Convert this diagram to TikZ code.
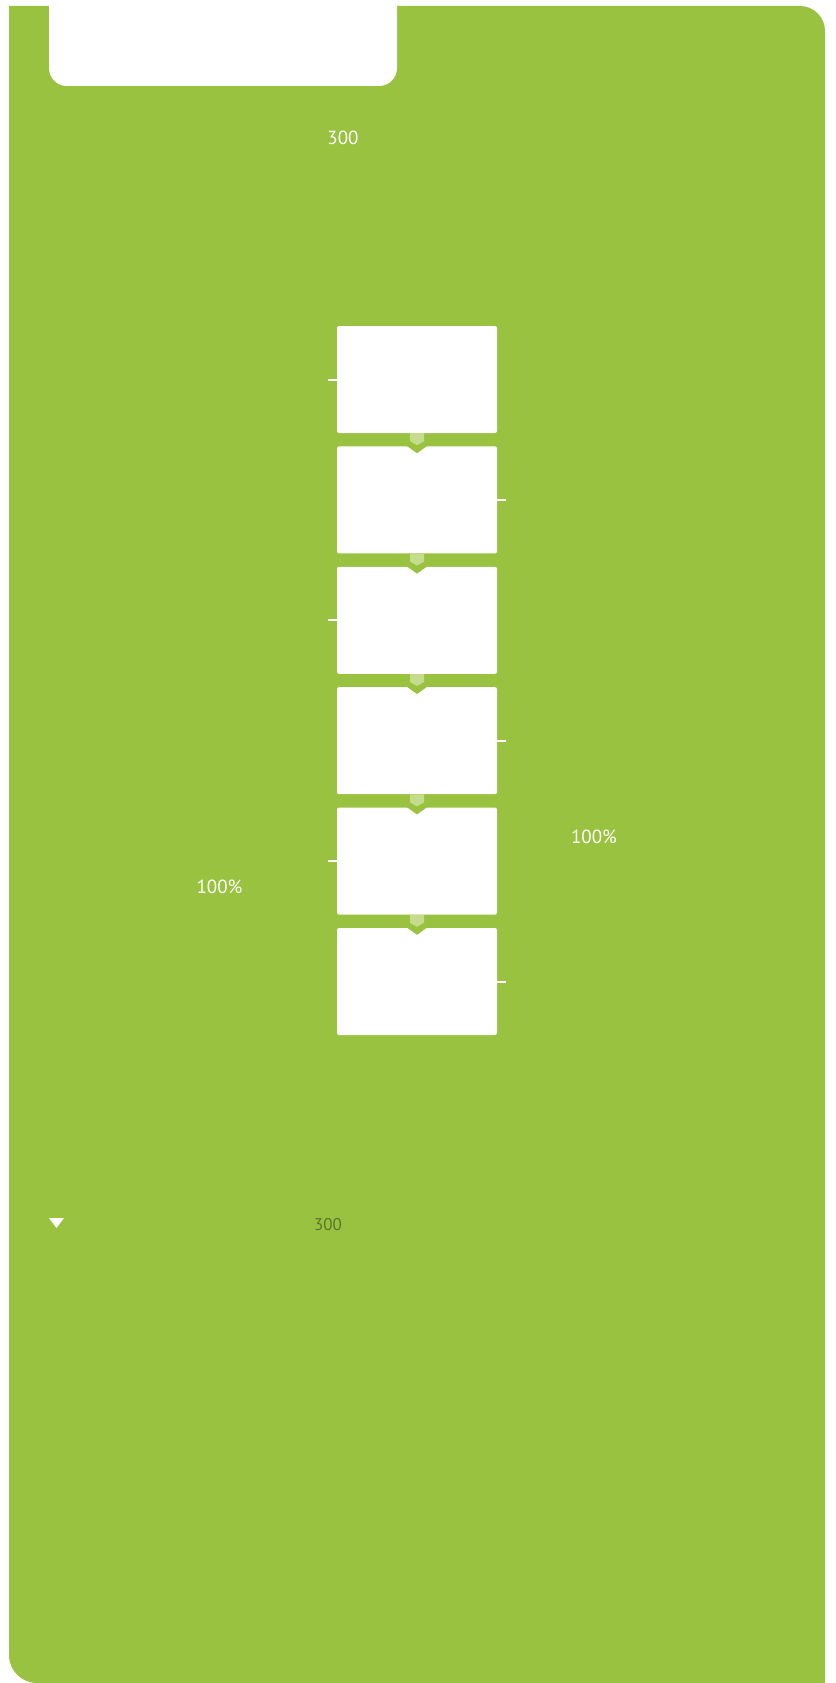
\documentclass[tikz,border=0pt]{standalone}
\usepackage{fontspec}
\setmainfont{PT Sans}
\usetikzlibrary{positioning}
\definecolor{bggreen}{HTML}{99C241}
\definecolor{arrowgreen}{HTML}{C4DC8C}
\definecolor{darkolive}{HTML}{5C7628}
\begin{document}
\begin{tikzpicture}[x=1pt, y=-1pt,
    whitebox/.style={fill=white, rounded corners=2pt, minimum width=160pt, minimum height=107pt, inner sep=0pt},
    tick/.style={draw=white, line width=2pt},
    flowarrow/.style={fill=arrowgreen},
    notch/.style={fill=bggreen},
    label/.style={text=white, font=\fontsize{19}{19}\selectfont, inner sep=0pt},
    node distance=13pt]

    \useasboundingbox (0,0) rectangle (835,1683);
    \fill[white] (0,0) rectangle (835,1683);

    \fill[bggreen] (9,6) -- (800,6) arc[start angle=-90, end angle=0, radius=25]
                   -- (825,1683) -- (37,1683) arc[start angle=90, end angle=180, radius=28]
                   -- cycle;

    \fill[white, rounded corners=18pt] (49,-30) -- (49,86) -- (397,86) -- (397,-30) -- cycle;

    \node[label] (topcount) at (343,138) {300};

    \node[whitebox] (box1) at (417,379.5) {};
    \node[whitebox, below=of box1] (box2) {};
    \node[whitebox, below=of box2] (box3) {};
    \node[whitebox, below=of box3] (box4) {};
    \node[whitebox, below=of box4] (box5) {};
    \node[whitebox, below=of box5] (box6) {};

    \fill[notch, shift={(box2.north)}] (-10.5,-0.5) -- (0,7) -- (10.5,-0.5) -- cycle;
    \fill[notch, shift={(box3.north)}] (-10.5,-0.5) -- (0,7) -- (10.5,-0.5) -- cycle;
    \fill[notch, shift={(box4.north)}] (-10.5,-0.5) -- (0,7) -- (10.5,-0.5) -- cycle;
    \fill[notch, shift={(box5.north)}] (-10.5,-0.5) -- (0,7) -- (10.5,-0.5) -- cycle;
    \fill[notch, shift={(box6.north)}] (-10.5,-0.5) -- (0,7) -- (10.5,-0.5) -- cycle;

    \fill[flowarrow, shift={(box1.south)}] (-7,0) -- (-7,8) -- (0,12) -- (7,8) -- (7,0) -- cycle;
    \fill[flowarrow, shift={(box2.south)}] (-7,0) -- (-7,8) -- (0,12) -- (7,8) -- (7,0) -- cycle;
    \fill[flowarrow, shift={(box3.south)}] (-7,0) -- (-7,8) -- (0,12) -- (7,8) -- (7,0) -- cycle;
    \fill[flowarrow, shift={(box4.south)}] (-7,0) -- (-7,8) -- (0,12) -- (7,8) -- (7,0) -- cycle;
    \fill[flowarrow, shift={(box5.south)}] (-7,0) -- (-7,8) -- (0,12) -- (7,8) -- (7,0) -- cycle;

    \draw[tick] (box1.west) -- ++(-9,0);
    \draw[tick] (box2.east) -- ++(9,0);
    \draw[tick] (box3.west) -- ++(-9,0);
    \draw[tick] (box4.east) -- ++(9,0);
    \draw[tick] (box5.west) -- ++(-9,0);
    \draw[tick] (box6.east) -- ++(9,0);

    \node[label] (leftshare) at (219.5,887) {100\%};
    \node[label] (rightshare) at (594,837) {100\%};

    \fill[white] (49,1218) -- (64,1218) -- (56.5,1228) -- cycle;
    \node[label, text=darkolive, font=\fontsize{17}{17}\selectfont] (bottomcount) at (328,1225) {300};

\end{tikzpicture}
\end{document}
